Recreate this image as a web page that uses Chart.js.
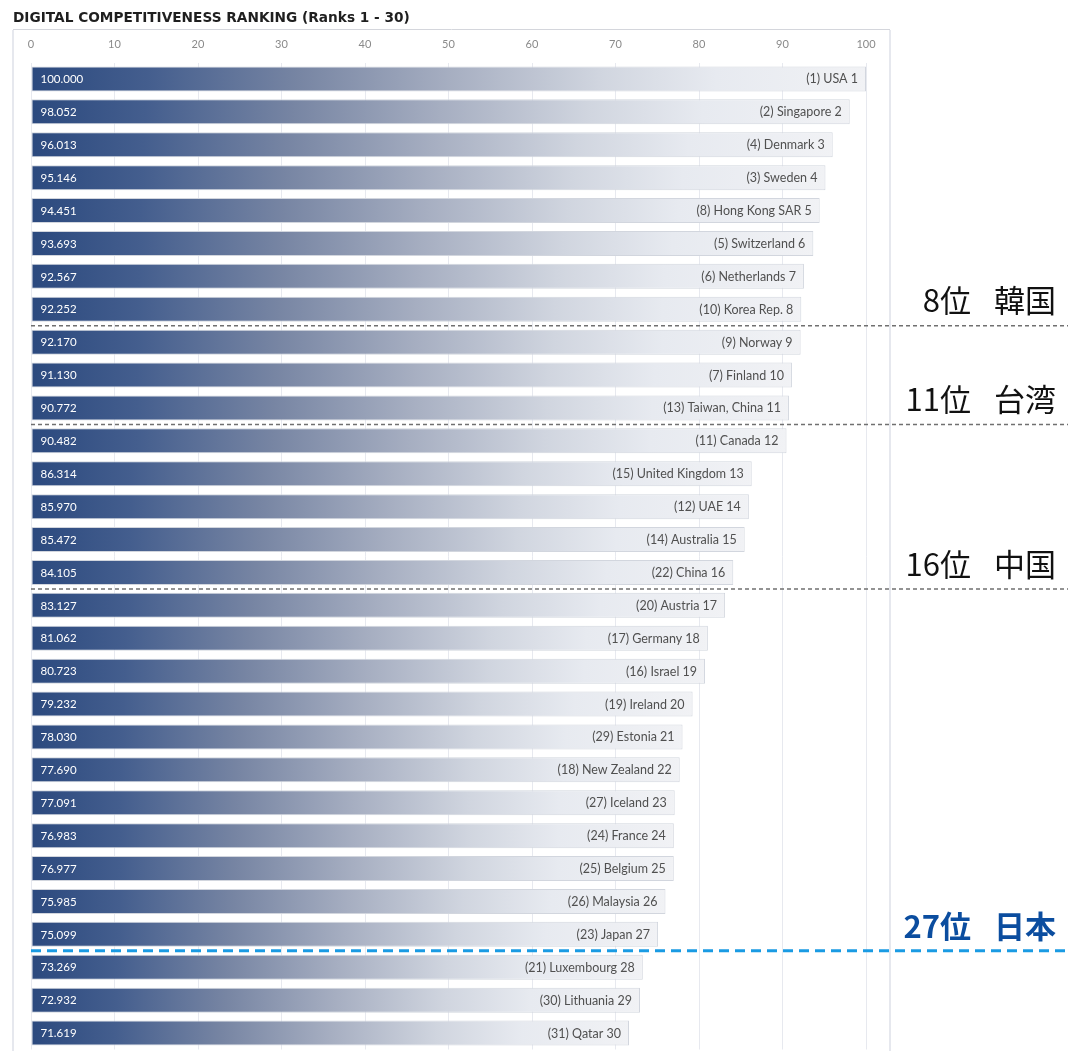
<!DOCTYPE html>
<html>
<head>
<meta charset="utf-8">
<script src="https://cdn.jsdelivr.net/npm/chart.js@4/dist/chart.umd.min.js"></script>
<style>
  html, body { margin: 0; padding: 0; background: #ffffff; }
  #wrap { width: 1068px; height: 1051px; position: relative; }
</style>
</head>
<body>
<div id="wrap"><canvas id="c" width="1068" height="1051"></canvas></div>
<script>
// Digital competitiveness ranking, ranks 1 - 30
const countries = ['USA', 'Singapore', 'Denmark', 'Sweden', 'Hong Kong SAR', 'Switzerland', 'Netherlands',
  'Korea Rep.', 'Norway', 'Finland', 'Taiwan, China', 'Canada', 'United Kingdom', 'UAE', 'Australia',
  'China', 'Austria', 'Germany', 'Israel', 'Ireland', 'Estonia', 'New Zealand', 'Iceland', 'France',
  'Belgium', 'Malaysia', 'Japan', 'Luxembourg', 'Lithuania', 'Qatar'];
const scores = [100.000, 98.052, 96.013, 95.146, 94.451, 93.693, 92.567, 92.252, 92.170, 91.130,
  90.772, 90.482, 86.314, 85.970, 85.472, 84.105, 83.127, 81.062, 80.723, 79.232,
  78.030, 77.690, 77.091, 76.983, 76.977, 75.985, 75.099, 73.269, 72.932, 71.619];
const previousRanks = [1, 2, 4, 3, 8, 5, 6, 10, 9, 7, 13, 11, 15, 12, 14, 22, 20, 17, 16, 19,
  29, 18, 27, 24, 25, 26, 23, 21, 30, 31];
const axisTicks = [0, 10, 20, 30, 40, 50, 60, 70, 80, 90, 100];

// Highlighted positions, marked with a dashed line under the row
const markers = [
  { rank: 8,  place: '8位',  name: '韓国', color: '#111111', bold: false, line: '#707070', width: 1.5, dash: [4, 3] },
  { rank: 11, place: '11位', name: '台湾', color: '#111111', bold: false, line: '#707070', width: 1.5, dash: [4, 3] },
  { rank: 16, place: '16位', name: '中国', color: '#111111', bold: false, line: '#707070', width: 1.5, dash: [4, 3] },
  { rank: 27, place: '27位', name: '日本', color: '#0b4d9f', bold: true,  line: '#1a9be3', width: 3, dash: [10, 6] }
];

const LABEL_FONT = 'Lato, "Open Sans", "DejaVu Sans", sans-serif';
const TITLE_FONT = '"DejaVu Sans", Lato, sans-serif';
const JP_FONT = '"Noto Sans CJK JP", "Noto Sans", sans-serif';

function barGradient(context) {
  const chart = context.chart;
  const xs = chart.scales && chart.scales.x;
  if (!chart.chartArea || !xs || typeof context.raw !== 'number') return '#2c4a7f';
  const x0 = xs.getPixelForValue(0);
  const x1 = xs.getPixelForValue(context.raw);
  const g = chart.ctx.createLinearGradient(x0, 0, x1, 0);
  g.addColorStop(0.00, '#2b497e');
  g.addColorStop(0.14, '#445e8e');
  g.addColorStop(0.32, '#7785a3');
  g.addColorStop(0.50, '#a6aec1');
  g.addColorStop(0.68, '#d0d5df');
  g.addColorStop(0.82, '#e7eaf0');
  g.addColorStop(1.00, '#f1f2f5');
  return g;
}

const framePlugin = {
  id: 'frame',
  beforeDraw(chart) {
    const ctx = chart.ctx;
    ctx.save();
    ctx.fillStyle = '#ffffff';
    ctx.fillRect(0, 0, chart.width, chart.height);
    // title
    ctx.fillStyle = '#1f1f1f';
    ctx.font = 'bold 13.7px ' + TITLE_FONT;
    ctx.textBaseline = 'alphabetic';
    ctx.textAlign = 'left';
    ctx.fillText('DIGITAL COMPETITIVENESS RANKING (Ranks 1 - 30)', 13, 22);
    // panel frame
    ctx.strokeStyle = '#d4d6dc';
    ctx.lineWidth = 1;
    ctx.beginPath();
    ctx.moveTo(13, 29.5); ctx.lineTo(890, 29.5);
    ctx.stroke();
    ctx.strokeStyle = '#e6e8ee';
    ctx.lineWidth = 2;
    ctx.beginPath();
    ctx.moveTo(13, 30); ctx.lineTo(13, chart.height);
    ctx.moveTo(890, 30); ctx.lineTo(890, chart.height);
    ctx.stroke();
    ctx.restore();
  }
};

const barTextPlugin = {
  id: 'barText',
  afterDatasetsDraw(chart) {
    const ctx = chart.ctx;
    const meta = chart.getDatasetMeta(0);
    ctx.save();
    ctx.textBaseline = 'middle';
    meta.data.forEach((bar, i) => {
      ctx.font = '11.5px ' + LABEL_FONT;
      ctx.fillStyle = '#ffffff';
      ctx.textAlign = 'left';
      ctx.fillText(scores[i].toFixed(3), bar.base + 9, bar.y + 0.5);
      ctx.font = '12.5px ' + LABEL_FONT;
      ctx.fillStyle = '#505050';
      ctx.textAlign = 'right';
      ctx.fillText('(' + previousRanks[i] + ') ' + countries[i] + ' ' + (i + 1), bar.x - 8, bar.y + 0.5);
    });
    ctx.restore();
  }
};

const markerPlugin = {
  id: 'markers',
  afterDraw(chart) {
    const ctx = chart.ctx;
    const ys = chart.scales.y;
    const x0 = chart.scales.x.getPixelForValue(0);
    ctx.save();
    markers.forEach(m => {
      const yLine = (ys.getPixelForValue(m.rank - 1) + ys.getPixelForValue(m.rank)) / 2;
      ctx.strokeStyle = m.line;
      ctx.lineWidth = m.width;
      ctx.setLineDash(m.dash);
      ctx.beginPath();
      ctx.moveTo(x0, yLine);
      ctx.lineTo(chart.width, yLine);
      ctx.stroke();
      ctx.setLineDash([]);
      ctx.fillStyle = m.color;
      ctx.font = (m.bold ? 'bold ' : '') + '31px ' + JP_FONT;
      ctx.textBaseline = 'middle';
      ctx.textAlign = 'right';
      ctx.fillText(m.place, 971, yLine - 25);
      ctx.textAlign = 'left';
      ctx.fillText(m.name, 994, yLine - 25);
    });
    ctx.restore();
  }
};

new Chart(document.getElementById('c'), {
  type: 'bar',
  data: {
    labels: countries,
    datasets: [{
      data: scores,
      backgroundColor: barGradient,
      borderColor: '#d2d6de',
      borderWidth: 1,
      borderSkipped: false,
      categoryPercentage: 1,
      barPercentage: 0.76
    }]
  },
  options: {
    indexAxis: 'y',
    responsive: false,
    animation: false,
    events: [],
    layout: { padding: { left: 31, right: 202, top: 29.5, bottom: 1.5 } },
    plugins: { legend: { display: false }, tooltip: { enabled: false }, title: { display: false } },
    scales: {
      x: {
        position: 'top',
        min: 0,
        max: 100,
        afterBuildTicks(scale) { scale.ticks = axisTicks.map(v => ({ value: v })); },
        afterFit(scale) { scale.height = 33; },
        ticks: { color: '#8a8a8a', font: { family: LABEL_FONT, size: 11 }, padding: 11, maxRotation: 0 },
        grid: { color: '#e7e9ef', lineWidth: 1, drawTicks: false },
        border: { display: false }
      },
      y: { display: false }
    }
  },
  plugins: [framePlugin, barTextPlugin, markerPlugin]
});
</script>
</body>
</html>
